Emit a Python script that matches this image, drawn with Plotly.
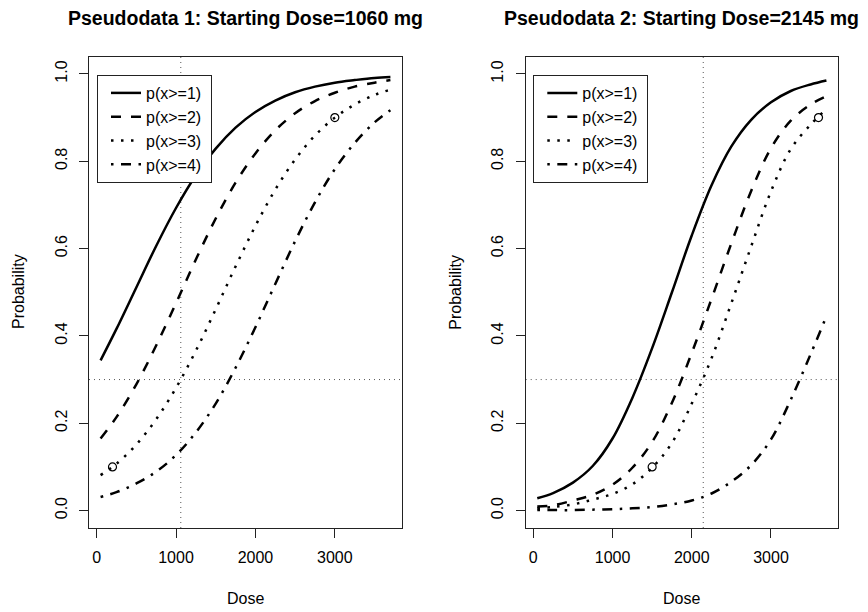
import plotly.graph_objects as go

# ---------------- data ----------------
dose = [50, 250, 500, 750, 1000, 1250, 1500, 1750, 2000, 2250, 2500, 2750, 3000, 3250, 3500, 3700]

# Pseudodata 1
p1_a = [0.344, 0.416, 0.511, 0.606, 0.693, 0.768, 0.829, 0.877, 0.913, 0.939, 0.958, 0.971, 0.980, 0.986, 0.991, 0.993]
p2_a = [0.165, 0.214, 0.289, 0.378, 0.475, 0.575, 0.669, 0.751, 0.818, 0.871, 0.910, 0.938, 0.957, 0.971, 0.980, 0.986]
p3_a = [0.081, 0.107, 0.151, 0.209, 0.281, 0.366, 0.461, 0.559, 0.652, 0.735, 0.804, 0.859, 0.900, 0.930, 0.952, 0.964]
p4_a = [0.031, 0.042, 0.062, 0.089, 0.127, 0.179, 0.245, 0.327, 0.420, 0.519, 0.617, 0.706, 0.782, 0.842, 0.889, 0.917]
obs_dose_a = [200, 3000]
obs_prob_a = [0.1, 0.9]
start_dose_a = 1060

# Pseudodata 2
p1_b = [0.028, 0.040, 0.064, 0.102, 0.165, 0.258, 0.372, 0.500, 0.630, 0.745, 0.834, 0.895, 0.935, 0.961, 0.976, 0.985]
p2_b = [0.009, 0.012, 0.023, 0.036, 0.059, 0.098, 0.157, 0.247, 0.361, 0.485, 0.612, 0.732, 0.830, 0.893, 0.930, 0.949]
p3_b = [0.005, 0.008, 0.014, 0.025, 0.038, 0.060, 0.098, 0.155, 0.245, 0.349, 0.475, 0.605, 0.731, 0.828, 0.884, 0.920]
p4_b = [0.001, 0.001, 0.001, 0.002, 0.003, 0.005, 0.008, 0.014, 0.023, 0.039, 0.066, 0.104, 0.163, 0.254, 0.358, 0.445]
obs_dose_b = [1500, 3600]
obs_prob_b = [0.1, 0.9]
start_dose_b = 2145

target_prob = 0.3
labels = ["p(x>=1)", "p(x>=2)", "p(x>=3)", "p(x>=4)"]
titles = ["Pseudodata 1: Starting Dose=1060 mg", "Pseudodata 2: Starting Dose=2145 mg"]
x_ticks = [0, 1000, 2000, 3000]
y_ticks = [0.0, 0.2, 0.4, 0.6, 0.8, 1.0]
y_ticktext = ["0.0", "0.2", "0.4", "0.6", "0.8", "1.0"]

# ---------------- styling ----------------
FONT = "Liberation Sans, Arial, Helvetica, sans-serif"
dashes = ["solid", "10px,10px", "2.5px,7.5px", "2.5px,7.5px,10px,7.5px"]
LW = 2.5
NB = "\u00a0"

# page body has an 8px margin: the figure occupies the window minus that offset
OFF = 8
WIN_W, WIN_H = 868, 612
W, H = WIN_W - OFF, WIN_H - OFF


def px(xw):
    return (xw - OFF) / W


def py(yw):
    return 1 - (yw - OFF) / H


fig = go.Figure()

panels = [
    ([p1_a, p2_a, p3_a, p4_a], obs_dose_a, obs_prob_a, "x", "y", "legend"),
    ([p1_b, p2_b, p3_b, p4_b], obs_dose_b, obs_prob_b, "x2", "y2", "legend2"),
]

for curves, od, op, xa, ya, lg in panels:
    for lab, vals, dsh in zip(labels, curves, dashes):
        fig.add_trace(go.Scatter(
            x=dose, y=vals, mode="lines", name=lab + NB,
            line=dict(color="black", width=LW, dash=dsh, shape="spline", smoothing=1.0),
            xaxis=xa, yaxis=ya, legend=lg, showlegend=True,
        ))
    fig.add_trace(go.Scatter(
        x=od, y=op, mode="markers",
        marker=dict(symbol="circle-open", size=8, color="black", line=dict(width=1.2, color="black")),
        xaxis=xa, yaxis=ya, showlegend=False,
    ))

# reference lines
shapes = []
for sd, xa, ya in [(start_dose_a, "x", "y"), (start_dose_b, "x2", "y2")]:
    shapes.append(dict(type="line", xref=xa, yref=ya + " domain", x0=sd, x1=sd, y0=0, y1=1,
                       line=dict(color="#555", width=1, dash="1px,4px"), layer="below"))
    shapes.append(dict(type="line", xref=xa + " domain", yref=ya, x0=0, x1=1, y0=target_prob, y1=target_prob,
                       line=dict(color="#555", width=1, dash="1px,4px"), layer="below"))

dom_x1 = [px(89), px(402)]
dom_x2 = [px(525.7), px(838)]
dom_y = [py(528), py(56.5)]

axis_common = dict(
    showline=True, linecolor="#222", linewidth=1, mirror=True,
    ticks="outside", ticklen=9, tickwidth=1, tickcolor="#222",
    showgrid=False, zeroline=False,
    tickfont=dict(family=FONT, size=16, color="black"),
    ticklabelstandoff=6,
)

xaxis_common = dict(axis_common, range=[-96, 3846], tickmode="array", tickvals=x_ticks,
                    ticktext=[str(v) for v in x_ticks])
yaxis_common = dict(axis_common, range=[-0.04, 1.04], tickmode="array", tickvals=y_ticks,
                    ticktext=y_ticktext, tickangle=-90)

legend_common = dict(
    bgcolor="white", bordercolor="#222", borderwidth=1,
    font=dict(family=FONT, size=16, color="black"),
    xanchor="left", yanchor="top", tracegroupgap=0, indentation=8,
)

annotations = []
centers = [(89 + 402) / 2, (525.7 + 838) / 2]
lefts = [18, 454.7]
for i in range(2):
    annotations.append(dict(text="<b>" + titles[i] + "</b>", x=px(centers[i]), y=py(18),
                            xref="paper", yref="paper", showarrow=False, xanchor="center", yanchor="middle",
                            font=dict(family=FONT, size=19.5, color="black")))
    annotations.append(dict(text="Dose", x=px(centers[i]), y=py(598),
                            xref="paper", yref="paper", showarrow=False, xanchor="center", yanchor="middle",
                            font=dict(family=FONT, size=16, color="black")))
    annotations.append(dict(text="Probability", x=px(lefts[i]), y=py(292), textangle=-90,
                            xref="paper", yref="paper", showarrow=False, xanchor="center", yanchor="middle",
                            font=dict(family=FONT, size=16, color="black")))

fig.update_layout(
    width=W, height=H, autosize=False,
    margin=dict(l=0, r=0, t=0, b=0),
    paper_bgcolor="white", plot_bgcolor="white",
    xaxis=dict(xaxis_common, domain=dom_x1, anchor="y"),
    yaxis=dict(yaxis_common, domain=dom_y, anchor="x"),
    xaxis2=dict(xaxis_common, domain=dom_x2, anchor="y2"),
    yaxis2=dict(yaxis_common, domain=dom_y, anchor="x2"),
    legend=dict(legend_common, x=px(97), y=py(75)),
    legend2=dict(legend_common, x=px(533.3), y=py(75)),
    shapes=shapes,
    annotations=annotations,
    font=dict(family=FONT, color="black"),
)

fig.write_html("out.html")
